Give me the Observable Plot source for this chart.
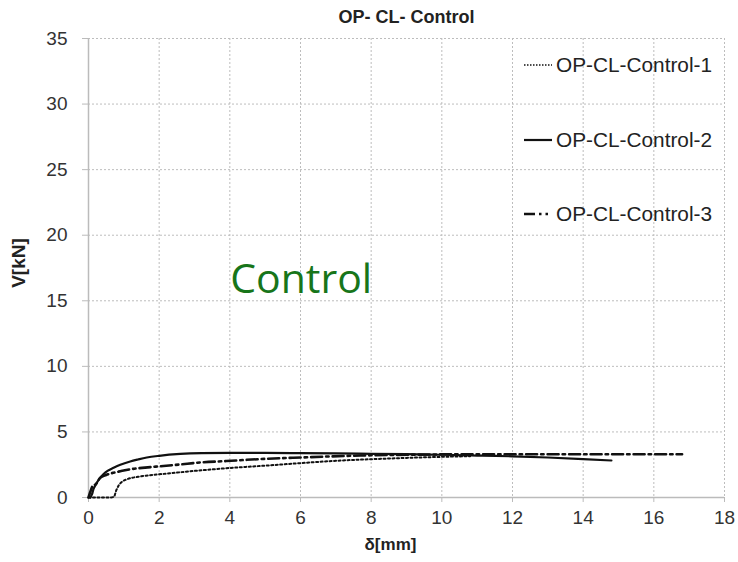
<!DOCTYPE html>
<html>
<head>
<meta charset="utf-8">
<script src="https://cdn.jsdelivr.net/npm/d3@7"></script>
<script src="https://cdn.jsdelivr.net/npm/@observablehq/plot@0.6"></script>
<style>
  html, body { margin: 0; padding: 0; background: #fff; }
  #chart { width: 738px; height: 562px; }
</style>
</head>
<body>
<div id="chart"></div>
<script>
// ---- data ----
const chartTitle = "OP- CL- Control";
const xLabel = "δ[mm]";
const yLabel = "V[kN]";
const xTicks = [0, 2, 4, 6, 8, 10, 12, 14, 16, 18];
const yTicks = [0, 5, 10, 15, 20, 25, 30, 35];
const seriesNames = ["OP-CL-Control-1", "OP-CL-Control-2", "OP-CL-Control-3"];

const c1Delta = [0, 0.3, 0.6, 0.72, 0.78, 0.85, 0.95, 1.1, 1.4, 1.8, 2.2, 3.0, 4.0, 5.0, 6.0, 7.0, 8.0, 9.0, 10.0, 10.8];
const c1V     = [0, 0, 0, 0.05, 0.5, 0.9, 1.2, 1.4, 1.58, 1.72, 1.82, 2.03, 2.25, 2.43, 2.62, 2.8, 2.92, 3.02, 3.1, 3.15];

const c2Delta = [0.05, 0.1, 0.14, 0.2, 0.3, 0.42, 0.55, 0.71, 0.9, 1.18, 1.4, 1.65, 2.0, 2.6, 3.2, 4.0, 5.0, 6.0, 7.0, 8.0, 9.0, 10.0, 11.0, 12.0, 13.0, 14.0, 14.8];
const c2V     = [0, 0.25, 0.64, 0.95, 1.4, 1.77, 2.05, 2.27, 2.5, 2.75, 2.9, 3.05, 3.18, 3.32, 3.38, 3.4, 3.4, 3.38, 3.36, 3.33, 3.3, 3.26, 3.2, 3.14, 3.05, 2.93, 2.82];

const c3Delta = [0, 0.06, 0.12, 0.2, 0.33, 0.5, 0.71, 0.9, 1.18, 1.6, 2.12, 2.6, 3.07, 3.9, 4.8, 5.8, 6.7, 7.7, 8.7, 9.7, 11, 12, 13, 14, 15, 16, 16.8];
const c3V     = [0, 0.5, 0.9, 1.0, 1.5, 1.72, 1.89, 2.0, 2.15, 2.28, 2.4, 2.52, 2.65, 2.78, 2.92, 3.03, 3.12, 3.2, 3.25, 3.28, 3.3, 3.3, 3.3, 3.3, 3.3, 3.3, 3.3];

const annotX = [6.02];
const annotY = [16.6];
const annotText = ["Control"];

// ---- build ----
const toRows = (xs, ys, name) => xs.map((x, i) => ({delta: x, v: ys[i], series: name}));
const s1 = toRows(c1Delta, c1V, seriesNames[0]);
const s2 = toRows(c2Delta, c2V, seriesNames[1]);
const s3 = toRows(c3Delta, c3V, seriesNames[2]);
const annot = annotText.map((t, i) => ({x: annotX[i], y: annotY[i], text: t}));

const lineStyles = [
  {stroke: "#111", strokeWidth: 2, strokeDasharray: "2,2.5"},
  {stroke: "#111", strokeWidth: 2.2, strokeDasharray: null},
  {stroke: "#111", strokeWidth: 2.6, strokeDasharray: "11,4,2.5,4"}
];

const plot = Plot.plot({
  width: 738,
  height: 562,
  marginLeft: 88,
  marginRight: 14,
  marginTop: 38,
  marginBottom: 65,
  style: {fontFamily: "'Liberation Sans', Arial, sans-serif", color: "#333", background: "#fff"},
  x: {domain: [0, 18]},
  y: {domain: [0, 35]},
  marks: [
    Plot.gridX(xTicks.slice(1), {stroke: "#bdbdbd", strokeOpacity: 1, strokeDasharray: "2,2"}),
    Plot.gridY(yTicks.slice(1), {stroke: "#bdbdbd", strokeOpacity: 1, strokeDasharray: "2,2"}),
    Plot.axisX(xTicks, {tickSize: 5, tickPadding: 8, fontSize: 19, stroke: "#bbb", fill: "#333", label: null}),
    Plot.axisY(yTicks, {tickSize: 6, tickPadding: 15, fontSize: 19, stroke: "#bbb", fill: "#333", label: null}),
    Plot.ruleX([0], {stroke: "#bbb", strokeWidth: 1.5}),
    Plot.ruleY([0], {stroke: "#bbb", strokeWidth: 1.5}),
    Plot.line(s1, {x: "delta", y: "v", ...lineStyles[0], curve: "monotone-x"}),
    Plot.line(s3, {x: "delta", y: "v", ...lineStyles[2], curve: "monotone-x"}),
    Plot.line(s2, {x: "delta", y: "v", ...lineStyles[1], curve: "monotone-x"}),
    Plot.text(annot, {x: "x", y: "y", text: "text", fill: "#17751a", fontSize: 41, fontFamily: "'Open Sans', sans-serif"}),
    Plot.text([chartTitle], {frameAnchor: "top", lineAnchor: "middle", dy: -21, text: d => d, fontWeight: "bold", fontSize: 18, fill: "#222"}),
    Plot.text([xLabel], {frameAnchor: "bottom", lineAnchor: "middle", dx: -16, dy: 47, text: d => d, fontWeight: "bold", fontSize: 17, fill: "#222"}),
    Plot.text([yLabel], {frameAnchor: "left", textAnchor: "middle", lineAnchor: "middle", dx: -70, dy: -5, rotate: -90, text: d => d, fontWeight: "bold", fontSize: 19, fill: "#222"})
  ]
});

// legend inside the frame, top-right
const svg = d3.select(plot);
const legend = svg.append("g")
  .attr("font-family", "'Liberation Sans', Arial, sans-serif")
  .attr("text-anchor", "start");
const rowY = [65, 140, 214];
seriesNames.forEach((name, i) => {
  const st = lineStyles[i];
  const x2 = i === 2 ? 548 : 552;
  legend.append("line")
    .attr("x1", 524).attr("x2", x2).attr("y1", rowY[i]).attr("y2", rowY[i])
    .attr("stroke", st.stroke).attr("stroke-width", i === 0 ? 1.4 : st.strokeWidth)
    .attr("stroke-dasharray", i === 0 ? "1.5,1.5" : st.strokeDasharray);
  legend.append("text")
    .attr("x", 556).attr("y", rowY[i]).attr("dy", "0.35em")
    .attr("font-size", 20.8).attr("fill", "#222").text(name);
});

document.getElementById("chart").appendChild(plot);
</script>
</body>
</html>
